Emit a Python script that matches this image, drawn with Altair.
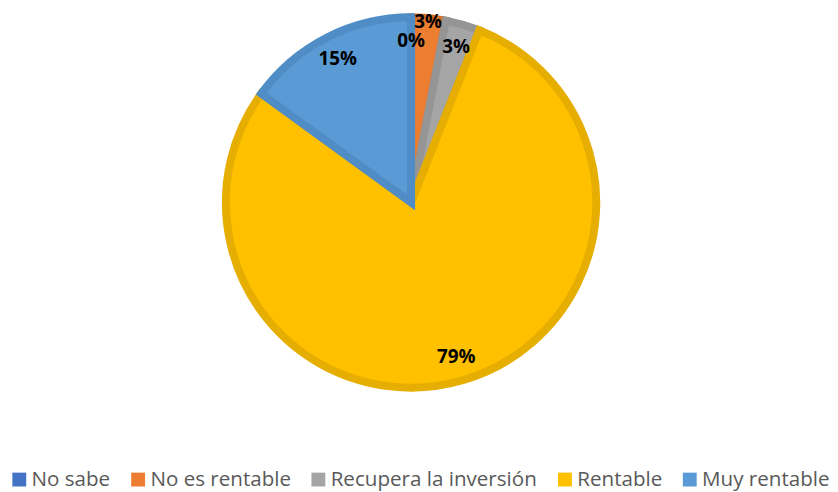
import altair as alt
import pandas as pd

categories = ["No sabe", "No es rentable", "Recupera la inversión", "Rentable", "Muy rentable"]
values = [0, 3, 3, 79, 15]
labels = ["0%", "3%", "3%", "79%", "15%"]
fill_colors = ["#4472C4", "#ED7D31", "#A5A5A5", "#FFC000", "#5B9BD5"]
stroke_colors = ["#3c66b3", "#d86d27", "#959595", "#e6ae00", "#508dc6"]

df = pd.DataFrame({
    "categoria": categories,
    "valor": values,
    "etiqueta": labels,
    "orden": list(range(len(categories))),
})

CX, CY = 407, 194

color = alt.Color(
    "categoria:N",
    sort=categories,
    scale=alt.Scale(domain=categories, range=fill_colors),
    legend=alt.Legend(
        title=None,
        orient="none",
        legendX=1,
        legendY=463,
        direction="horizontal",
        columns=5,
        symbolType="square",
        symbolSize=196,
        symbolStrokeWidth=0,
        symbolOpacity=1,
        labelFont="Open Sans",
        labelFontSize=20.8,
        labelColor="#595959",
        labelOffset=2,
        labelLimit=400,
        columnPadding=17,
    ),
)

arcs = alt.Chart(df).transform_filter("datum.valor > 0").mark_arc(
    outerRadius=187, strokeWidth=8, strokeJoin="miter"
).encode(
    theta=alt.Theta("valor:Q", stack=True),
    order=alt.Order("orden:Q"),
    x=alt.value(CX),
    y=alt.value(CY),
    color=color,
    stroke=alt.Stroke(
        "categoria:N",
        scale=alt.Scale(domain=categories, range=stroke_colors),
        legend=None,
    ),
)

text = alt.Chart(df).transform_joinaggregate(
    total="sum(valor)"
).transform_window(
    cum="sum(valor)", sort=[alt.SortField("orden")], frame=[None, 0]
).transform_calculate(
    ang="(datum.cum - datum.valor / 2) / datum.total * 2 * PI",
    rad="datum.categoria == 'No es rentable' ? 183 : 163",
).mark_text(
    font="Open Sans", fontSize=19, fontWeight="bold"
).encode(
    theta=alt.Theta("ang:Q", scale=None, stack=False),
    radius=alt.Radius("rad:Q", scale=None),
    x=alt.value(CX),
    y=alt.value(CY),
    text="etiqueta:N",
    color=alt.value("black"),
)

chart = alt.layer(arcs, text).resolve_scale(theta="independent").properties(
    width=830, height=484, padding=0, autosize="none"
).configure_view(stroke=None)

chart.save("out.html", embed_options={"renderer": "svg", "actions": False})
